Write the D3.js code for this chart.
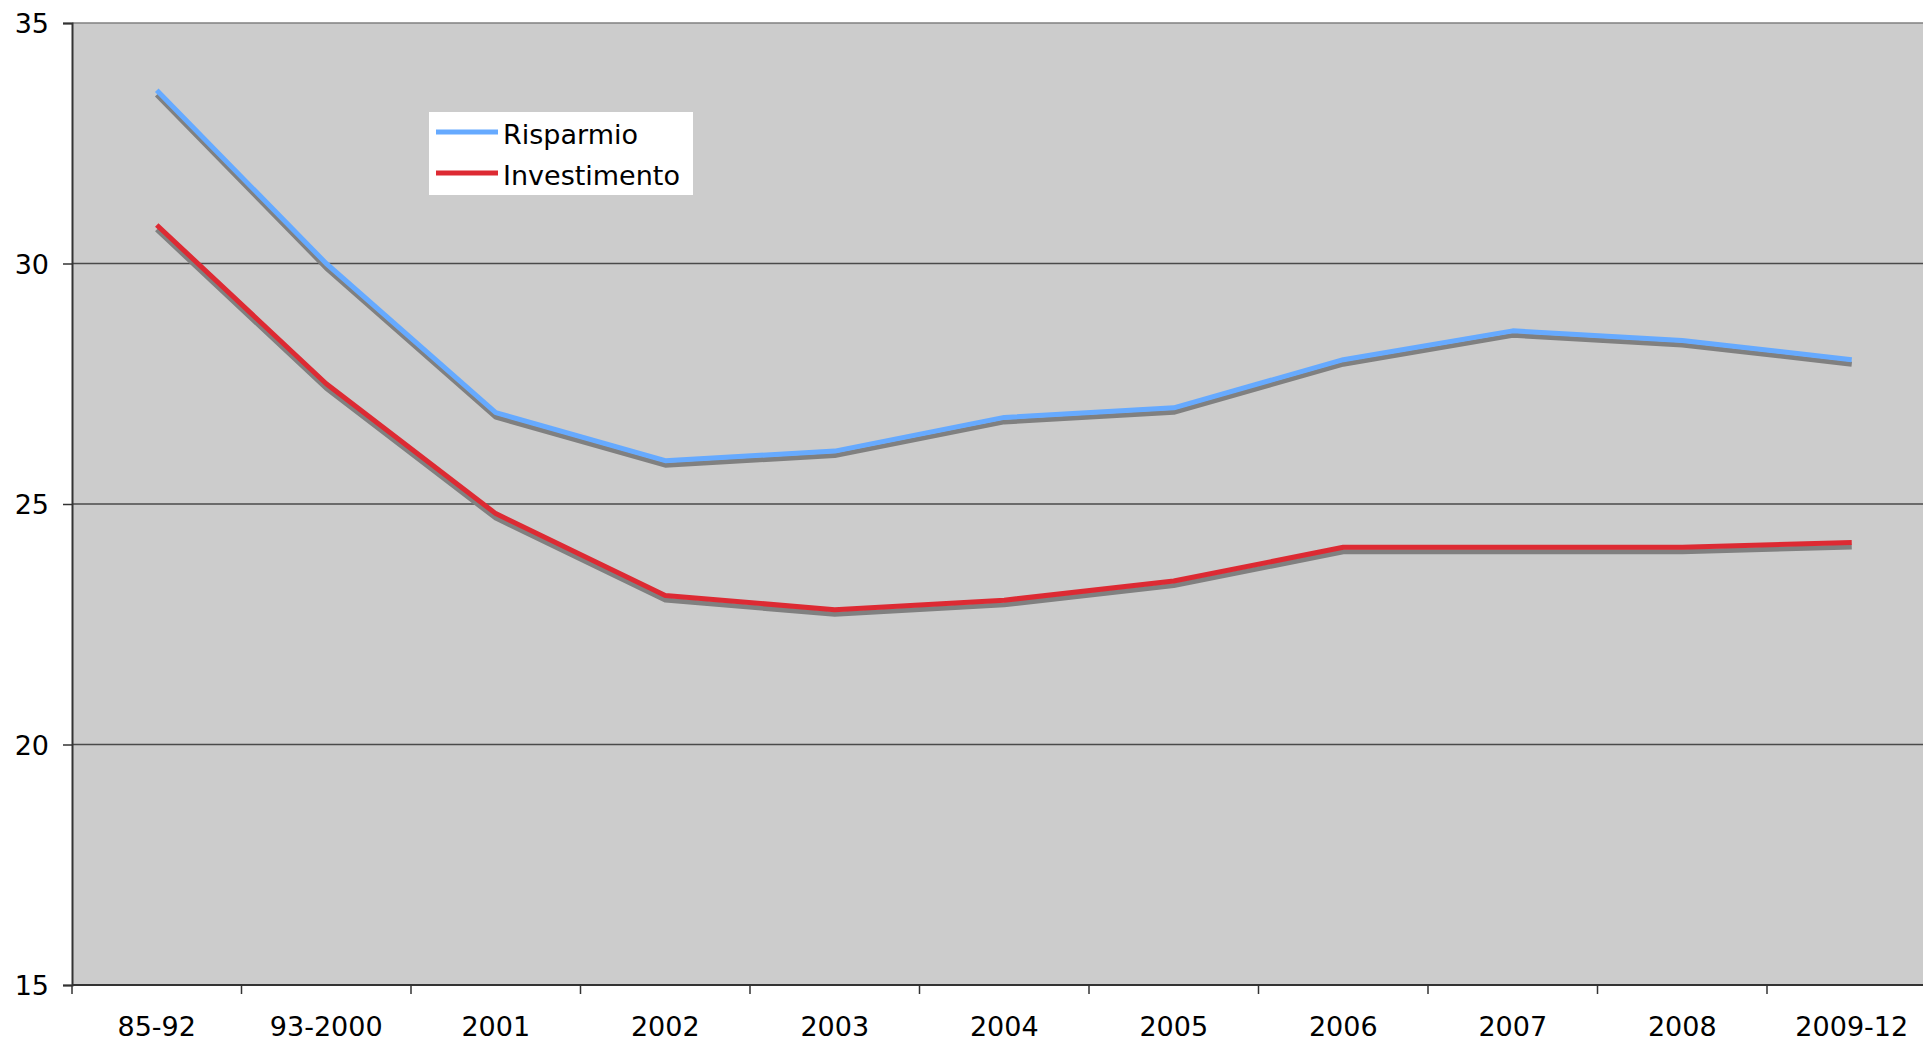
<!DOCTYPE html>
<html lang="en">
  <head>
    <meta charset="utf-8">
    <title>Risparmio e investimento</title>
    <script type="text/javascript" src="https://d3js.org/d3.v7.min.js"></script>
    <style type="text/css">
      body {
      margin: 0;
      background: #fff;
      overflow: hidden;
      }
      text {
      font-family: Verdana, "DejaVu Sans", sans-serif;
      font-size: 27px;
      fill: #000;
      }
    </style>
  </head>
  <body>
    <script type="text/javascript">
      var categories = ["85-92", "93-2000", "2001", "2002", "2003", "2004", "2005", "2006", "2007", "2008", "2009-12"];
      var risparmio = [33.6, 30.0, 26.9, 25.9, 26.1, 26.8, 27.0, 28.0, 28.6, 28.4, 28.0];
      var investimento = [30.8, 27.5, 24.8, 23.1, 22.8, 23.0, 23.4, 24.1, 24.1, 24.1, 24.2];
      var yTicks = [15, 20, 25, 30, 35];
      var seriesNames = ["Risparmio", "Investimento"];
      var seriesColors = ["#66aaff", "#dd2a33"];

      var width = 1923,
      height = 1043,
      plotLeft = 72,
      plotTop = 23,
      plotBottom = 985,
      band = 169.5;

      var svg = d3.select("body").append("svg")
      .attr("width", width)
      .attr("height", height);

      var x = d3.scaleBand()
      .domain(categories)
      .range([plotLeft, plotLeft + band * categories.length])
      .padding(0);

      var y = d3.scaleLinear()
      .domain([15, 35])
      .range([plotBottom, plotTop]);

      // plot area
      svg.append("rect")
      .attr("x", plotLeft)
      .attr("y", plotTop)
      .attr("width", band * categories.length)
      .attr("height", plotBottom - plotTop)
      .attr("fill", "#cccccc");

      // gridlines
      svg.selectAll(".grid")
      .data(yTicks.filter(function(d){ return d > 15; }))
      .enter().append("line")
      .attr("x1", plotLeft)
      .attr("x2", plotLeft + band * categories.length)
      .attr("y1", function(d){ return y(d); })
      .attr("y2", function(d){ return y(d); })
      .attr("stroke", function(d){ return d == 35 ? "#808080" : "#4a4a4a"; })
      .attr("stroke-width", 1.5);

      // lines with shadow
      var line = d3.line()
      .x(function(d, i){ return x(categories[i]) + x.bandwidth() / 2; })
      .y(function(d){ return y(d); });

      var series = [risparmio, investimento];
      series.forEach(function(s, k){
      svg.append("path")
      .attr("d", line(s))
      .attr("transform", "translate(0,4.5)")
      .attr("fill", "none")
      .attr("stroke", "#808080")
      .attr("stroke-width", 5)
      .attr("stroke-linejoin", "round");
      });
      series.forEach(function(s, k){
      svg.append("path")
      .attr("d", line(s))
      .attr("fill", "none")
      .attr("stroke", seriesColors[k])
      .attr("stroke-width", 5)
      .attr("stroke-linejoin", "round");
      });

      // y axis
      var yAxis = d3.axisLeft(y)
      .tickValues(yTicks)
      .tickSize(9)
      .tickPadding(14);

      var gy = svg.append("g")
      .attr("transform", "translate(" + plotLeft + ",0)")
      .call(yAxis);
      gy.select(".domain").attr("stroke", "#333").attr("stroke-width", 2);
      gy.selectAll(".tick line").attr("stroke", "#333").attr("stroke-width", 1.5);
      gy.selectAll(".tick text")
      .attr("font-size", 27)
      .attr("font-family", "Verdana, 'DejaVu Sans', sans-serif")
      .attr("dy", "0.36em");

      // x axis
      svg.append("line")
      .attr("x1", plotLeft)
      .attr("x2", plotLeft + band * categories.length)
      .attr("y1", plotBottom)
      .attr("y2", plotBottom)
      .attr("stroke", "#333")
      .attr("stroke-width", 2);

      svg.selectAll(".xtick")
      .data(categories)
      .enter().append("line")
      .attr("x1", function(d){ return x(d); })
      .attr("x2", function(d){ return x(d); })
      .attr("y1", plotBottom)
      .attr("y2", plotBottom + 9)
      .attr("stroke", "#333")
      .attr("stroke-width", 1.5);

      svg.selectAll(".xlabel")
      .data(categories)
      .enter().append("text")
      .attr("x", function(d){ return x(d) + x.bandwidth() / 2; })
      .attr("y", 1036)
      .attr("text-anchor", "middle")
      .text(function(d){ return d; });

      // legend
      var legend = svg.append("g");
      legend.append("rect")
      .attr("x", 429)
      .attr("y", 112)
      .attr("width", 264)
      .attr("height", 83)
      .attr("fill", "#fff");

      seriesNames.forEach(function(n, k){
      var ly = 132 + k * 41;
      legend.append("line")
      .attr("x1", 436)
      .attr("x2", 498)
      .attr("y1", ly)
      .attr("y2", ly)
      .attr("stroke", seriesColors[k])
      .attr("stroke-width", 5);
      legend.append("text")
      .attr("x", 503)
      .attr("y", ly + 12)
      .text(n);
      });
    </script>
  </body>
</html>
